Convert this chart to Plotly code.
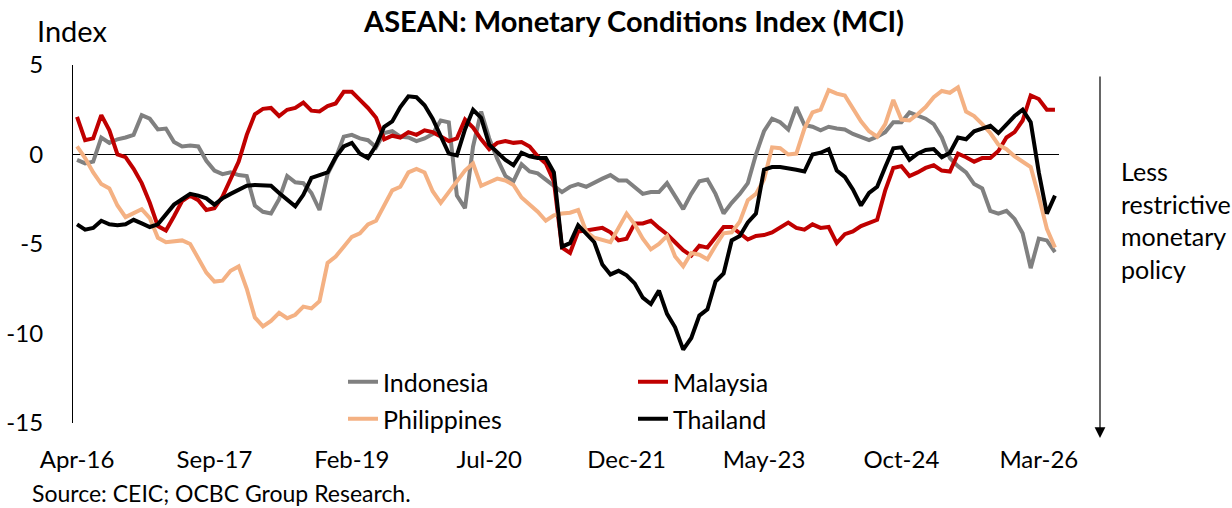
import pandas as pd
import plotly.graph_objects as go

months = pd.date_range("2016-04-01", periods=122, freq="MS").strftime("%b-%y").tolist()
tick_labels = months[::17]
y_ticks = [5, 0, -5, -10, -15]
y_tick_text = ["5", "0", "-5", "-10", "-15"]

indonesia = [-0.3, -0.5, -0.4, 0.95, 0.65, 0.85, 0.95, 1.1, 2.2, 2.0, 1.4, 1.45, 0.7, 0.45, 0.5, 0.45, -0.35, -0.9, -1.1, -1.0, -1.15, -1.2, -2.85, -3.2, -3.3,
             -2.5, -1.2, -1.55, -1.6, -2.15, -3.1, -1.1, -0.2, 1.0, 1.1, 0.9, 0.8, 0.4, 1.2, 1.3, 1.0, 0.95, 0.75, 0.9, 1.15, 1.9, 1.8, -2.3, -3.0,
             0.45, 2.4, 0.9, -0.25, -1.2, -1.5, -0.55, -0.95, -1.05, -1.4, -1.75, -2.1, -1.8, -1.65, -1.8, -1.55, -1.35, -1.15, -1.45, -1.45, -1.8, -2.2, -2.1, -2.1, -1.6,
             -2.35, -3.05, -2.2, -1.5, -1.4, -2.2, -3.3, -2.7, -2.2, -1.6, 0.0, 1.3, 2.0, 1.8, 1.4, 2.65, 1.65, 1.55, 1.35, 1.55, 1.45, 1.4, 1.15, 1.0, 0.8,
             1.0, 1.25, 1.8, 1.8, 2.35, 2.2, 2.0, 1.7, 0.95, -0.2, -0.65, -1.0, -1.65, -1.9, -3.15, -3.3, -3.15, -3.6, -4.4, -6.35, -4.7, -4.8, -5.45]

malaysia = [2.1, 0.8, 0.9, 2.2, 1.35, 0.0, -0.15, -0.8, -1.6, -2.7, -4.0, -4.25, -3.45, -2.6, -2.3, -2.55, -3.1, -3.0, -2.35, -1.35, -0.4, 1.1, 2.25, 2.55, 2.6,
            2.15, 2.5, 2.6, 2.9, 2.45, 2.4, 2.7, 2.85, 3.5, 3.5, 3.05, 2.6, 2.05, 0.85, 1.05, 0.95, 1.25, 1.1, 1.35, 1.25, 1.0, 0.75, 0.9, 1.95,
            1.5, 0.85, 0.3, 0.65, 0.75, 0.65, 0.7, 0.45, -0.1, -0.5, -1.5, -5.2, -5.5, -4.3, -4.25, -4.15, -4.1, -4.35, -4.8, -4.7, -3.85, -3.85, -3.7, -4.1, -4.45,
            -4.9, -5.35, -5.65, -5.1, -5.2, -4.6, -4.05, -4.05, -4.4, -4.75, -4.55, -4.5, -4.35, -4.05, -3.8, -4.1, -4.2, -3.9, -4.1, -4.05, -4.95, -4.45, -4.3, -4.0, -3.8,
            -3.65, -2.0, -0.75, -0.65, -1.2, -1.0, -0.75, -0.6, -0.9, -0.95, 0.05, -0.15, -0.4, -0.2, -0.2, 0.2, 0.95, 1.25, 1.9, 3.3, 3.1, 2.5, 2.5]

philippines = [0.45, -0.2, -1.0, -1.65, -1.9, -2.85, -3.5, -3.3, -3.05, -3.55, -4.65, -4.9, -4.85, -4.8, -5.0, -5.85, -6.6, -7.1, -7.05, -6.5, -6.25, -7.5, -9.1, -9.6, -9.3,
               -8.85, -9.15, -8.95, -8.5, -8.6, -8.2, -6.05, -5.7, -5.15, -4.6, -4.4, -3.9, -3.7, -2.85, -2.0, -1.8, -1.0, -0.8, -1.0, -2.05, -2.7, -2.1, -1.5, -0.9,
               -0.5, -1.75, -1.55, -1.35, -1.45, -1.7, -2.4, -2.8, -3.2, -3.7, -3.4, -3.3, -3.25, -3.1, -4.3, -4.65, -4.8, -4.9, -4.1, -3.3, -3.9, -4.7, -5.3, -5.0, -4.55,
               -5.7, -6.25, -5.5, -5.6, -5.85, -5.1, -4.4, -4.35, -3.75, -2.55, -2.2, -1.4, 0.4, 0.35, 0.0, 0.05, 1.45, 2.35, 2.5, 3.6, 3.4, 3.3, 2.6, 1.85, 1.3,
               1.0, 1.7, 3.05, 1.95, 1.9, 2.25, 2.65, 3.2, 3.55, 3.45, 3.75, 2.4, 2.15, 1.7, 1.2, 0.55, 0.3, -0.1, -0.4, -0.7, -2.35, -4.15, -5.2]

thailand = [-3.9, -4.2, -4.1, -3.7, -3.9, -3.95, -3.9, -3.65, -3.85, -4.05, -3.9, -3.35, -2.8, -2.5, -2.2, -2.3, -2.45, -2.8, -2.45, -2.2, -1.95, -1.75, -1.7, -1.7, -1.75,
            -2.15, -2.55, -2.9, -2.25, -1.3, -1.15, -1.0, -0.15, 0.45, 0.65, 0.05, -0.2, 0.5, 1.55, 1.85, 2.65, 3.25, 3.2, 2.75, 2.0, 1.0, 0.05, -0.05, 1.4,
            2.5, 2.05, 0.55, 0.1, -0.3, -0.6, 0.1, -0.1, -0.2, -0.2, -1.0, -5.15, -4.95, -3.95, -4.45, -4.9, -6.15, -6.7, -6.5, -6.75, -7.2, -8.0, -8.35, -7.6, -8.9,
            -9.65, -10.9, -10.25, -9.0, -8.65, -7.1, -6.65, -4.8, -4.55, -3.8, -3.3, -0.85, -0.7, -0.7, -0.75, -0.85, -0.95, 0.0, 0.1, 0.3, -0.9, -1.25, -1.95, -2.85, -2.15,
            -1.8, -0.7, 0.35, 0.4, -0.3, 0.05, 0.25, 0.3, -0.15, 0.1, 0.95, 0.85, 1.3, 1.45, 1.6, 1.2, 1.65, 2.15, 2.5, 1.8, -1.0, -3.3, -2.3]

series = [
    ("Indonesia", indonesia, "#808080", "legend"),
    ("Malaysia", malaysia, "#C00000", "legend2"),
    ("Philippines", philippines, "#F4B183", "legend3"),
    ("Thailand", thailand, "#000000", "legend4"),
]

FONT = "Lato, 'Open Sans', sans-serif"

fig = go.Figure()
for name, vals, color, lg in series:
    fig.add_trace(go.Scatter(x=months, y=vals, mode="lines", name=name,
                             line=dict(color=color, width=4), legend=lg))

L, R, T, B = 73, 1059, 65, 423
W, H = 1232, 508
pw, ph = R - L, B - T

def px(X):
    return (X - L) / pw

def py(Y):
    return (B - Y) / ph

def leg(X, Y):
    return dict(x=px(X), y=py(Y), xanchor="left", yanchor="middle",
                orientation="v", bgcolor="rgba(0,0,0,0)", font=dict(size=25))

fig.update_layout(
    width=W, height=H, autosize=False,
    margin=dict(l=L, r=W - R, t=T, b=H - B, autoexpand=False),
    paper_bgcolor="white", plot_bgcolor="white",
    font=dict(family=FONT, size=24, color="black"),
    title=dict(text="<b>ASEAN: Monetary Conditions Index (MCI)</b>",
               x=px(634), xref="paper", xanchor="center",
               y=1 - 22 / H, yref="container", yanchor="middle",
               font=dict(family=FONT, size=29, color="black")),
    xaxis=dict(type="category", range=[-0.5, 121.5], autorange=False, tickmode="array",
               tickvals=tick_labels, ticktext=tick_labels, showgrid=False,
               showline=False, zeroline=False, ticks="", ticklabelstandoff=20,
               automargin=False, tickfont=dict(size=24)),
    yaxis=dict(range=[-15, 5], autorange=False, tickmode="array", tickvals=y_ticks,
               ticktext=y_tick_text, showgrid=False,
               showline=True, linecolor="black", linewidth=1.2, ticks="",
               zeroline=True, zerolinecolor="black", zerolinewidth=1.3,
               ticklabelstandoff=24, automargin=False, tickfont=dict(size=24)),
    legend=leg(343, 382),
    legend2=leg(633, 382),
    legend3=leg(343, 419),
    legend4=leg(633, 419),
    showlegend=True,
)

fig.add_annotation(text="Index", xref="paper", yref="paper", x=px(35), y=py(30),
                   xanchor="left", yanchor="middle", showarrow=False,
                   font=dict(size=29))
fig.add_annotation(text="Source: CEIC; OCBC Group Research.", xref="paper", yref="paper",
                   x=px(30), y=py(493), xanchor="left", yanchor="middle", showarrow=False,
                   font=dict(size=23))
fig.add_annotation(text="Less<br>restrictive<br>monetary<br>policy", xref="paper", yref="paper",
                   x=px(1119), y=py(220), xanchor="left", yanchor="middle", align="left",
                   showarrow=False, font=dict(size=25))
fig.add_annotation(text="", xref="paper", yref="paper", x=px(1100), y=py(438),
                   ax=0, ay=-(438 - 75), axref="pixel", ayref="pixel",
                   showarrow=True, arrowhead=2, arrowsize=1.8, arrowwidth=1.2,
                   arrowcolor="black")

fig.write_html("out.html", config={"displayModeBar": False},
               post_script="document.body.style.margin='0';")
